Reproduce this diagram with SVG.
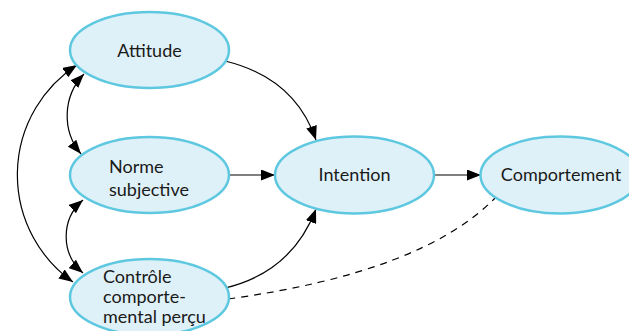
<svg xmlns="http://www.w3.org/2000/svg" width="629" height="331" viewBox="0 0 629 331">
<style>
.node ellipse{fill:#dff1f8;stroke:#5ec8e0;stroke-width:2.5}
.node text{font-family:Lato,"Liberation Sans",sans-serif;font-size:18px;fill:#1a1a1a}
.c{text-anchor:middle}
#connectors path{fill:none;stroke:#000;stroke-width:1.2}
#connectors .dash{stroke-dasharray:7,6}
</style>
<defs>
<marker id="ah" viewBox="0 0 14 11" refX="14" refY="5.5" markerWidth="14" markerHeight="11" markerUnits="userSpaceOnUse" orient="auto-start-reverse">
<path d="M0,0 L14,5.5 L0,11 Z" fill="#000"/>
</marker>
</defs>
<g id="connectors">
<path d="M225,61 Q295,78 316,140" marker-end="url(#ah)"/>
<path d="M229,175 L275,175" marker-end="url(#ah)"/>
<path d="M225,288 Q292,272 316,209" marker-end="url(#ah)"/>
<path d="M434,175 L481,175" marker-end="url(#ah)"/>
<path class="dash" d="M228,299 Q424,272 496,197"/>
<path d="M84,74 A60,60 0 0 0 81,154" marker-start="url(#ah)" marker-end="url(#ah)"/>
<path d="M83,200 A48,48 0 0 0 83,273" marker-start="url(#ah)" marker-end="url(#ah)"/>
<path d="M77,65 A131,131 0 0 0 73,282" marker-start="url(#ah)" marker-end="url(#ah)"/>
</g>
<g id="attitude" class="node">
<ellipse cx="149.5" cy="50" rx="79.5" ry="38"/>
<text class="c" x="149.5" y="57">Attitude</text>
</g>
<g id="norme" class="node">
<ellipse cx="149.5" cy="175" rx="79.5" ry="38"/>
<text x="109" y="173">Norme</text>
<text x="109" y="196">subjective</text>
</g>
<g id="controle" class="node">
<ellipse cx="149.5" cy="297" rx="79.5" ry="38"/>
<text x="103" y="283">Contrôle</text>
<text x="103" y="303">comporte-</text>
<text x="103" y="323">mental perçu</text>
</g>
<g id="intention" class="node">
<ellipse cx="354.5" cy="175" rx="79.5" ry="38.5"/>
<text class="c" x="354.5" y="181">Intention</text>
</g>
<g id="comportement" class="node">
<ellipse cx="560" cy="175" rx="79.5" ry="38.5"/>
<text class="c" x="561" y="181">Comportement</text>
</g>
</svg>
